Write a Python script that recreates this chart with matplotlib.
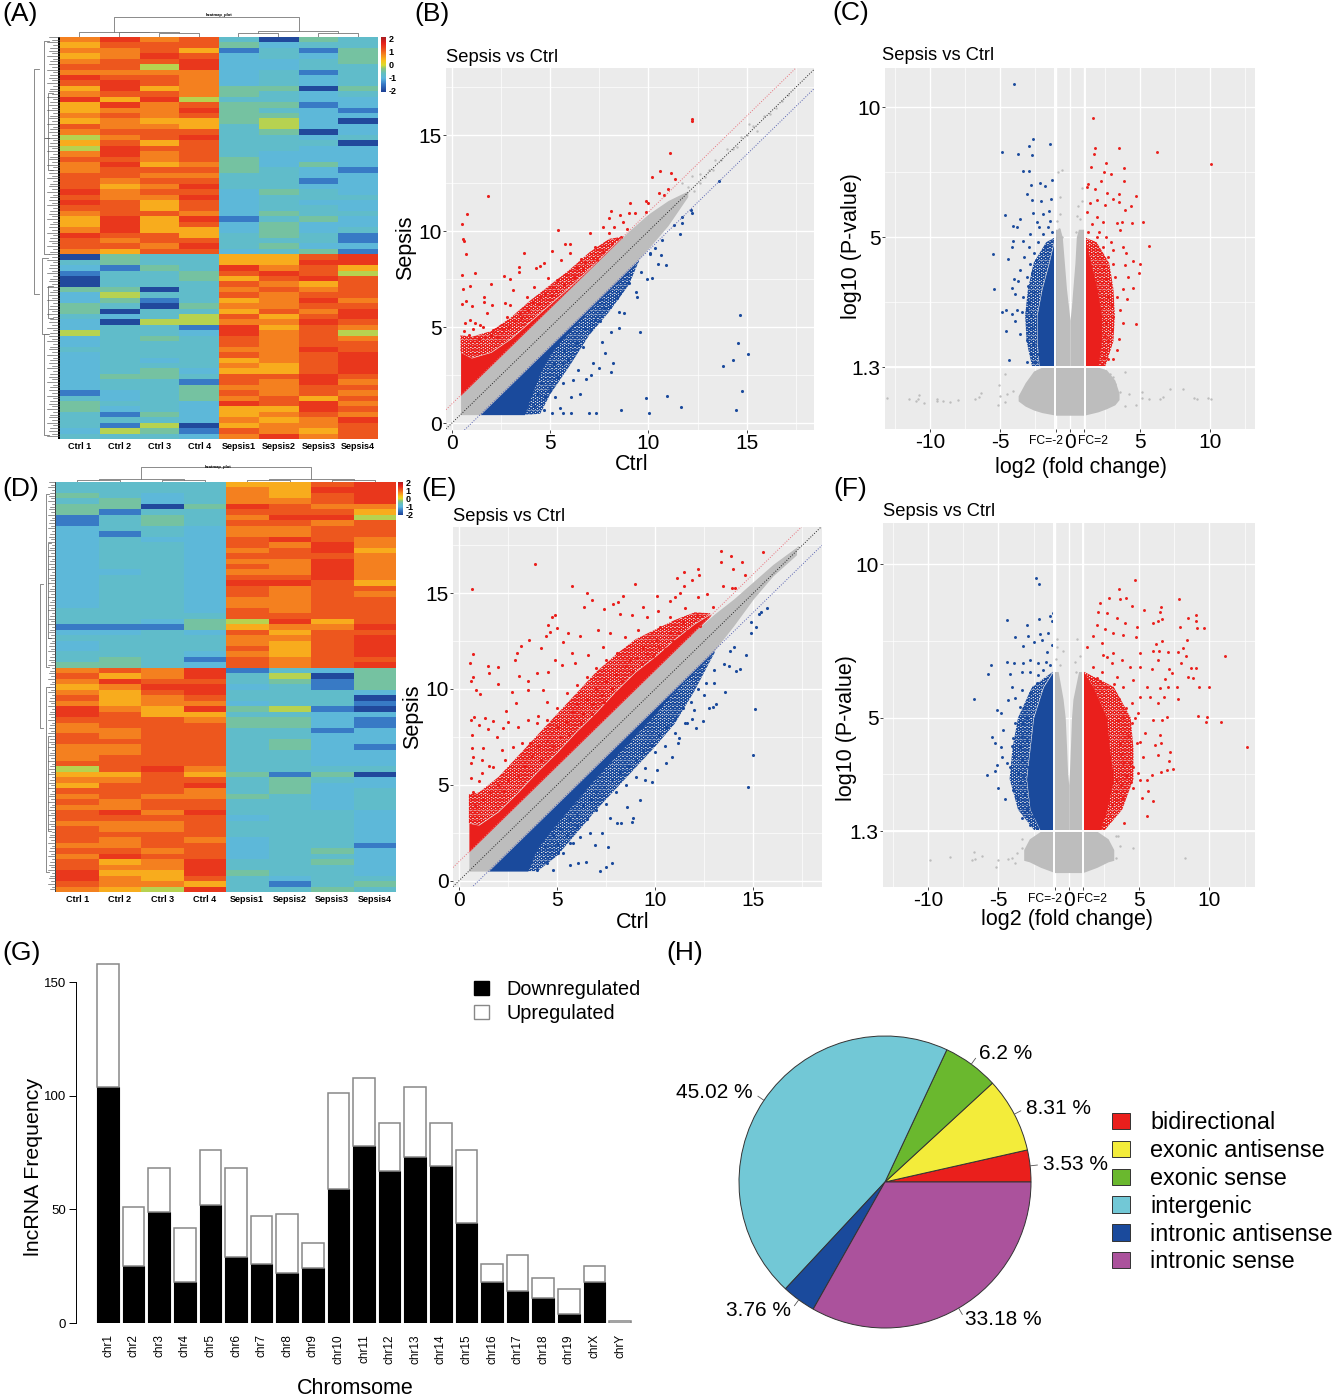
import matplotlib
matplotlib.use('Agg')
import matplotlib.pyplot as plt
import numpy as np
from matplotlib.colors import LinearSegmentedColormap
from matplotlib.patches import Patch

plt.rcParams['font.family'] = ['Liberation Sans', 'DejaVu Sans']
plt.rcParams['hatch.linewidth'] = 0.8

W, H = 1333, 1399

# heatmap rows, one digit per sample (Ctrl 1-4, Sepsis1-4), digit = level in heat_levels
heat_levels = [-2.0, -1.5, -1.0, -0.8, -0.5, -0.15, 0.45, 0.8, 1.1, 1.4]
samples_a = ['Ctrl 1', 'Ctrl 2', 'Ctrl 3', 'Ctrl 4', 'Sepsis1', 'Sepsis2', 'Sepsis3', 'Sepsis4']
rows_a = [
    '79783043', '68884233', '77861314', '67982324', '78892234', '88592233', '77772313', '98872323',
    '89872323', '69674404', '78874323', '96953322', '69784412', '67794321', '78784422', '67664520',
    '87763522', '78883402', '57893323', '68683330', '59883322', '79783222', '88784222', '79674242',
    '78884321', '88773322', '87883312', '86793322', '97882432', '87792333', '98682322', '88682332',
    '78872433', '69691342', '69682422', '79662423', '98863431', '87883331', '88793422', '76882341',
    '04336689', '34336699', '21439786', '13348985', '03346898', '03338768', '44037878', '25338788',
    '24136797', '43047788', '40336879', '32358689', '20557798', '23319687', '53329785', '23438787',
    '23338788', '33337798', '23338789', '23236789', '23337689', '23426689', '24438898', '23318797',
    '23347788', '12348787', '32347868', '43329897', '42326698', '31426787', '33327679', '31506778',
    '25418768', '33327978',
]
samples_d = samples_a
rows_d = [
    '33336689', '33337699', '43237689', '34237789', '44049877', '41338886', '13437995', '13438878',
    '23327788', '21327788', '23228987', '23328797', '23327896', '23328887', '23327797', '23328797',
    '22327797', '23328897', '23329986', '23328788', '23328787', '23327788', '23327788', '33328788',
    '33338888', '33245968', '11146779', '22328688', '33337789', '23337689', '23338689', '33327689',
    '34318788', '44328789',
    '78791324', '86793504', '79883414', '67992314', '76893332', '86783330', '76772331', '97694510',
    '98663322', '88874421', '78884421', '77883312', '87883322', '88883422', '77883421', '77883322',
    '78883322', '88883322', '58973333', '66864140', '77883432', '68893422', '88873423', '78774323',
    '87883323', '77883323', '89793332', '88882332', '77783332', '87783332', '88883332', '87872332',
    '77882331', '88782342', '79882332', '86793342', '87793332', '96694332', '97683233', '87763134',
    '76593343',
]

# scatter B: dense clouds as envelopes, then the separate points
b_band_x = [0.45, 1.45, 5, 9, 10, 11, 12]
b_band_hi = [1.45, 2.45, 6, 10, 10.9, 11.6, 12.1]
b_band_lo = [0.45, 0.45, 4, 8, 9.1, 10.3, 11.8]
b_up_x = [0.45, 1, 2, 3, 4, 5, 6, 7, 8, 8.6]
b_up_hi = [3.7, 3.4, 3.7, 4.4, 5.3, 6.2, 7.1, 8.05, 9.05, 9.65]
b_up_lo = [1.45, 2, 3, 4, 5, 6, 7, 8, 9, 9.6]
b_up_fuzz = [4.6, 4.5, 4.8, 5.5, 6.4, 7.2, 8, 8.9, 9.6, 9.7]
b_down_x = [1.45, 3.7, 4, 4.5, 5, 6, 7, 8, 9, 9.5]
b_down_hi = [0.45, 2.7, 3, 3.5, 4, 5, 6, 7, 8, 8.5]
b_down_lo = [0.45, 0.45, 1.3, 2.6, 3.6, 4.8, 5.9, 6.9, 7.9, 8.45]
b_down_fuzz = [0.45, 0.45, 0.45, 0.5, 1.5, 3, 4.6, 5.8, 7.2, 8.4]
b_red = [(1.83, 11.86), (.8, 10.89), (.54, 10.4), (.56, 9.58), (.64, 9.51), (.75, 8.82), (.54, 7.71), (1.19, 7.81),
         (.93, 7.17), (.56, 7.0), (2, 7.27), (1.64, 6.56), (.73, 6.39), (.54, 6.2), (1.02, 6.13), (2.03, 6.15),
         (1.64, 6.34), (2.66, 7.69), (2.97, 7.5), (3.44, 8.16), (3.7, 8.87), (3.42, 7.9), (5.39, 10.05), (5.08, 8.96),
         (5.78, 9.34), (6, 9.32), (7.05, 9.9), (8.08, 11.04), (9.07, 11.49), (12.22, 15.83), (12.24, 15.75), (11.08, 14.06),
         (10.61, 13.16), (10.2, 12.81), (11.14, 13.02), (11.37, 12.73), (11, 12.19), (10.53, 11.98), (10.8, 11.91),
         (9.86, 11.58), (9.97, 11.49), (9.88, 11.02), (9.34, 10.97), (9.03, 10.94), (8.56, 10.83), (8.02, 10.71),
         (8.73, 10.5), (8.27, 10.24), (7.68, 10.21), (7.98, 9.93), (8.61, 9.69), (7.27, 9.17), (6.56, 8.54), (6.02, 8.89),
         (5.54, 8.51), (4.71, 8.37), (4.49, 8.19), (4.29, 8.09), (3.14, 6.94), (4.2, 7.12), (4.88, 7.55), (5.37, 7.47),
         (5.17, 7.12), (3.81, 6.6), (2.71, 6.25), (2.97, 6.16), (1.78, 5.73), (.93, 5.38), (1.44, 5.12), (2.12, 4.86),
         (2.8, 5.56), (3.47, 5.73), (4.15, 6.34), (4.49, 6.6), (4.75, 6.77), (5.08, 6.68), (5.85, 7.73), (6.36, 8.07),
         (6.78, 8.33), (7.2, 8.59), (7.71, 8.94), (8.14, 9.38), (.6, 4.8), (.9, 4.6), (1.1, 4.9), (1.4, 4.4), (1.7, 4.5),
         (2, 4.6), (2.3, 4.5), (2.6, 4.9), (2.9, 5.0), (3.2, 5.3), (3.5, 5.5), (.7, 5.2), (1.2, 5.2), (1.6, 5.0),
         (3.9, 5.9), (4.4, 6.2), (5.3, 6.9), (5.7, 7.2), (6.2, 7.6), (6.7, 8.1), (7.4, 8.5), (8.4, 9.6), (8.9, 10.1)]
b_blue = [(14.64, 5.63), (14.58, 4.17), (15.07, 3.59), (14.29, 3.3), (13.78, 2.99), (14.76, 1.7), (14.46, .69), (11.66, .87),
          (10.93, 1.41), (9.88, 1.32), (10.02, .54), (8.63, .68), (7.36, .52), (6.98, .54), (6.05, .56), (5.64, .56),
          (5.1, .56), (6.07, 1.35), (6.53, 1.53), (6.81, 2.29), (7.08, 2.5), (7.49, 2.88), (8.12, 2.67), (8.22, 3.16),
          (7.8, 3.68), (9.58, 4.74), (8.51, 4.95), (8.1, 4.77), (7.63, 4.25), (7.2, 3.16), (6.44, 2.78), (6.19, 2.26),
          (5.68, 2.08), (5.25, 1.39), (4.75, 1.39), (5.51, .78), (4.71, .69), (8.76, 5.73), (8.53, 5.82), (9.41, 6.6),
          (9.37, 6.82), (10.17, 7.55), (9.92, 7.5), (10.9, 8.26), (10.47, 8.3), (10.63, 8.77), (11.59, 9.84), (11.73, 10.42),
          (11.73, 10.76), (12.2, 10.97), (12.19, 11.11), (13.58, 12.59), (11.32, 10.33), (10.71, 9.55), (10.34, 9.11),
          (10.08, 8.85), (8.56, 6.77), (8.05, 6.08), (7.54, 5.3), (7.03, 4.86), (6.69, 3.99), (5.93, 3.3), (5.68, 3.13),
          (5.34, 2.43), (5, 1.74), (4.4, 1.5), (4.2, .9), (4.6, 2.1), (5.2, 3.1), (5.7, 3.8), (6.3, 4.2), (6.8, 4.9),
          (7.3, 5.4), (7.8, 6), (8.4, 6.5), (9, 7.3), (9.6, 7.9), (10.1, 8.8)]
b_gray = [(12, 12.3), (12.3, 12.1), (11.7, 12.5), (12.6, 13), (12.9, 12.8), (13.1, 13.2), (13.4, 13.7), (13.7, 13.7),
          (14, 14.3), (14.3, 14.3), (14.7, 14.9), (15, 15), (15.3, 15.5), (15.5, 15.2), (15.9, 16), (16.2, 16.1),
          (16.5, 16.4), (16.8, 16.8), (17.1, 17.1), (12.2, 12.9), (12.6, 12.5), (13.3, 13.2), (14.5, 14.4), (15.1, 15.6)]

# scatter E
e_band_x = [0.5, 1.5, 5, 12, 13, 14, 15, 16, 17.2]
e_band_hi = [1.5, 2.5, 6, 13, 13.9, 14.7, 15.6, 16.5, 17.4]
e_band_lo = [0.5, 0.5, 4, 11, 12, 13.3, 14.7, 15.9, 17]
e_up_x = [0.5, 1, 2, 3, 4, 5, 6, 7, 8, 9, 10, 11, 12, 12.8]
e_up_hi = [3, 2.9, 3.6, 4.6, 5.7, 6.7, 7.8, 8.8, 9.9, 10.9, 11.7, 12.6, 13.4, 13.9]
e_up_lo = [1.5, 2, 3, 4, 5, 6, 7, 8, 9, 10, 11, 12, 13, 13.8]
e_up_fuzz = [4.5, 4.6, 5.4, 6.5, 7.6, 8.7, 9.8, 10.9, 11.8, 12.6, 13.1, 13.6, 14, 13.95]
e_down_x = [1.5, 3.5, 4, 5, 6, 7, 8, 9, 10, 11, 12, 13]
e_down_hi = [0.5, 2.5, 3, 4, 5, 6, 7, 8, 9, 10, 11, 12]
e_down_lo = [0.5, 0.5, 1.7, 3, 4.2, 5.4, 6.5, 7.6, 8.7, 9.9, 10.9, 11.9]
e_down_fuzz = [0.5, 0.5, 0.5, 1.3, 2.5, 3.7, 4.8, 5.9, 7, 8.2, 9.9, 11.85]
e_red = [(3.89, 16.52), (.68, 15.23), (5.74, 15.39), (6.52, 14.99), (6.76, 14.63), (6.38, 14.28), (4.87, 13.86), (4.72, 13.76),
         (4.52, 13.36), (4.64, 12.99), (4.97, 13.17), (3.58, 12.57), (4.41, 12.78), (3.17, 12.26), (2.97, 11.88), (4.18, 12.16),
         (2.87, 11.53), (.73, 11.83), (.58, 11.37), (1.46, 11.22), (2, 11.17), (1.55, 10.83), (.7, 10.64), (.59, 10.42),
         (1.97, 10.24), (3.07, 10.7), (3.53, 10.42), (2.72, 9.83), (.87, 9.93), (1.09, 9.74), (2.89, 9.25), (2.39, 8.87),
         (.61, 8.38), (.76, 8.56), (1.32, 8.5), (1.75, 8.33), (2.51, 8.3), (1, 8.12), (1.49, 7.9), (.65, 7.6), (2.22, 7.95),
         (1.92, 7.51), (.65, 6.9), (1.24, 6.9), (.73, 6.47), (.59, 6.12), (1.15, 6.3), (.59, 5.34), (1.15, 5.6), (1.75, 5.95),
         (2.34, 6.3), (2.77, 6.99), (3.62, 7.17), (3.96, 8.21), (4.47, 8.38), (3.53, 9.95), (4.3, 9.95), (3.96, 10.82),
         (4.55, 10.9), (4.89, 11.51), (5.25, 11.25), (5.31, 12.47), (5.57, 12.9), (6.16, 12.77), (5.74, 11.86), (5.91, 11.34),
         (6.59, 11.77), (7.1, 13.08), (7.37, 14.16), (7.83, 14.42), (8.12, 14.56), (8.37, 14.85), (8.95, 15.46), (9.39, 14.26),
         (8.79, 13.86), (8.2, 13.91), (10.07, 14.85), (10.15, 14.09), (10.75, 14.59), (11, 14.82), (11.1, 15.81), (11.44, 16.09),
         (12.16, 16.24), (12.24, 15.93), (11.85, 15.69), (11.48, 15.37), (11.26, 15.03), (13.34, 17.18), (13.87, 16.92),
         (13.34, 16.61), (14.41, 16.64), (13.94, 16.24), (14.57, 15.93), (15.47, 17.17), (13.46, 15.37), (13.89, 15.25),
         (14.09, 15.25), (12.65, 14.96), (12.19, 14.78), (11.51, 14.21), (10.75, 13.77), (10.24, 13.25), (9.56, 13.77),
         (9.13, 13.08), (8.45, 12.73), (7.69, 12.9), (7.35, 12.21), (8.03, 11.86), (8.71, 11.51), (9.39, 12.21), (10.07, 12.56),
         (10.75, 12.9), (11.43, 13.43), (12.11, 13.86), (12.95, 14.3), (2, 5), (2.5, 5.2), (3, 5.5), (3.3, 6), (3.7, 6.5),
         (4, 7), (4.5, 7.3), (5, 8), (5.2, 7.5), (5.5, 8.3), (5.8, 8.8), (6, 9.2), (6.3, 8.7), (6.5, 9.5), (6.8, 9.2), (7, 10),
         (7.3, 9.7), (7.5, 10.4), (7.8, 10), (8, 10.8), (8.3, 10.4), (8.5, 11.2), (8.8, 10.9), (9, 11.6), (9.3, 11.3), (9.6, 11.9),
         (9.9, 11.7), (10.2, 12.2), (10.5, 12.1), (10.9, 12.5), (11.2, 12.9), (11.6, 13), (5, 9), (5.5, 9.8), (6, 10.2),
         (6.5, 10.6), (7, 11.1), (7.5, 11.5), (4, 8.6), (4.5, 9.3), (3.5, 8.4), (3, 8), (3.2, 7.2), (2.2, 6.8), (1.5, 6), (1, 5.2),
         (.7, 4.6), (.8, 3.9), (1.2, 4.2), (1.6, 4.6), (2.3, 4.7), (4.2, 6.3), (4.8, 7), (5.6, 7.6), (6.2, 8.2), (6.8, 8.7),
         (7.4, 9.3), (8, 9.8), (8.6, 10.3), (9.2, 10.8), (9.8, 11.3), (10.4, 11.8), (11, 12.3), (11.7, 12.8), (12.3, 13.3)]
e_blue = [(15.08, 8.96), (14.99, 6.54), (14.72, 4.87), (14.65, 11.77), (15.69, 14.24), (15.37, 14.03), (15.3, 13.91), (15.16, 13.25),
          (14.89, 13.51), (14.87, 12.9), (14.31, 11.03), (14.11, 10.96), (13.75, 11.2), (13.55, 9.86), (13.09, 9.2), (12.92, 9.08),
          (12.75, 8.99), (12.44, 8.33), (12.1, 7.95), (11.88, 8.42), (11.6, 8.21), (11.22, 7.43), (11.17, 7.17), (10.83, 6.47),
          (10.53, 6.12), (10.07, 5.77), (9.81, 5.17), (9.47, 5.25), (9.22, 4.21), (8.85, 3.25), (8.79, 3.04), (8.23, 2.99),
          (7.81, .9), (7.49, .73), (7.18, .52), (7.57, 1.77), (6.93, 1.86), (6.47, .99), (6.08, .9), (5.65, .82), (4.8, .56),
          (5.31, 1.43), (5.82, 1.95), (7.69, 3.25), (8.54, 3.86), (8.03, 2.99), (7.27, 2.47), (6.67, 2.47), (6.16, 2.3), (5.65, 1.95),
          (5.06, 1.43), (4.47, .9), (3.96, .56), (4, 1.6), (4.4, 1.8), (4.8, 2.4), (5.2, 2.7), (5.6, 3.2), (6, 3.4), (6.3, 3.9),
          (6.7, 4.2), (7, 4.6), (7.4, 4.9), (7.8, 5.3), (8.2, 5.6), (8.6, 6), (9, 6.3), (9.4, 6.8), (9.8, 7.1), (10.2, 7.6),
          (10.6, 8), (11, 8.5), (11.4, 9), (11.8, 9.3), (12.2, 10), (12.6, 10.3), (13, 11), (5, 1.9), (5.5, 2.4), (6, 2.8),
          (6.5, 3.2), (7, 3.7), (7.5, 4), (8, 4.6), (8.5, 5), (9, 5.4), (9.5, 5.9), (10, 6.7), (10.5, 7), (11, 7.7), (11.5, 8.2),
          (12, 8.9), (12.5, 9.7), (13, 10.3), (13.5, 11.3), (13.8, 12), (14, 12.2)]
e_gray = [(13, 13.5), (13.4, 13.9), (13.7, 14.2), (14, 14.5), (14.3, 14.4), (14.6, 14.9), (14.9, 15.3), (15.2, 15.4), (15.5, 15.7),
          (15.8, 15.9), (16, 16.2), (16.3, 16.3), (16.5, 16.6), (16.8, 16.9), (17.1, 17.1), (17.3, 17.4)]

# volcano C, y is the plotted position: the tick labelled 1.3 sits at 0 on this panel
c_ticks_y = [0, 5, 10]
c_red = [(1.62, 9.56), (1.79, 8.44), (3.5, 8.42), (6.24, 8.27), (1.69, 8.19), (10.07, 7.81), (2.6, 7.85), (1.48, 7.69), (3.86, 7.67),
         (2.43, 7.49), (2.93, 7.44), (3.83, 7.15), (2.19, 7.15), (1.31, 7.03), (1.79, 6.86), (1.19, 6.92), (2.62, 6.71), (3.52, 6.64),
         (4.71, 6.58), (3.1, 6.47), (1.9, 6.41), (3.52, 6.35), (4.38, 6.18), (2.52, 6.22), (3.93, 6.03), (1.24, 5.96), (5.24, 5.59),
         (4.45, 5.55), (3.74, 5.58), (3.33, 5.55), (1.9, 5.77), (2.38, 5.58), (5.67, 4.64), (3.57, 5.29), (2.9, 4.81), (3.76, 4.62),
         (3.98, 4.4), (4.48, 4.09), (5.02, 3.95), (4.93, 3.62), (3.93, 3.91), (4.12, 3.46), (3.1, 3.97), (4.52, 3.05), (4.05, 2.63),
         (3.76, 3.01), (3.57, 2.18), (4.69, 1.65), (3.81, 1.71), (3.52, 1.09), (3.33, .67), (3.1, .32), (2.74, .32), (2.26, .13),
         (3.1, 4.49), (2.74, 4.23), (2.38, 4.62), (1.9, 5), (3.21, 3.46), (2.86, 3.21), (3.33, 2.69), (3.1, 1.92), (2.98, 1.41),
         (2.74, 1.03), (2.5, .64), (1.4, 6.3), (1.6, 5.5), (2.1, 5.2), (2.6, 5), (1.3, 5.2), (2.4, 3.9), (2.6, 3.4), (2.7, 2.7),
         (2.9, 2.4), (2.6, 1.7), (2.5, 1.2), (2.4, .4)]
c_blue = [(-3.98, 10.87), (-2.67, 8.77), (-2.93, 8.49), (-1.43, 8.56), (-4.83, 8.27), (-3.74, 8.19), (-2.74, 8.17), (-3.38, 7.54),
          (-2.93, 7.53), (-1.26, 7.18), (-2.14, 7.08), (-2.81, 6.99), (-1.76, 6.95), (-3.1, 6.64), (-1.33, 6.47), (-2.71, 6.41),
          (-2.1, 6.38), (-4.62, 5.85), (-2.62, 5.92), (-3.57, 5.68), (-4.1, 5.41), (-3.81, 5.38), (-2.38, 5.58), (-2.86, 5.13),
          (-4.05, 4.85), (-3.38, 4.85), (-4.17, 4.62), (-5.48, 4.36), (-4.4, 4.14), (-3.29, 4.23), (-2.86, 3.97), (-3.57, 3.74),
          (-3.98, 3.4), (-3.1, 3.46), (-3.69, 3.31), (-5.45, 2.99), (-4.12, 3.05), (-3.93, 2.82), (-3.33, 2.69), (-4.86, 2.12),
          (-4.6, 2.2), (-3.81, 2.2), (-4.12, 2.05), (-3.45, 2.12), (-3.93, 1.79), (-4.55, 1.37), (-3.57, 1.26), (-3.1, 1.03),
          (-4.36, .26), (-3.1, .19), (-1.5, 6.0), (-1.9, 5.9), (-2.2, 5.4), (-1.6, 5.4), (-1.9, 5.1), (-2.3, 4.8), (-2.6, 4.4),
          (-2.9, 4.6), (-1.8, 4.6), (-2.4, 4.1), (-2.7, 3.6), (-3.0, 3.1), (-2.6, 2.9), (-2.9, 2.5), (-3.1, 2.2), (-2.8, 2),
          (-2.7, 1.5), (-3.0, 1.6), (-2.6, .9), (-2.8, .5), (-2.6, .2), (-2.3, .5), (-1.4, 5.6), (-1.3, 5.2)]
c_gray = [(-.55, 7.59), (-.83, 7.5), (.88, 6.9), (-.71, 6.54), (-.9, 5.6), (-.7, 5.9), (.5, 5.8), (.7, 5.7), (.8, 5.2), (-.8, 5.3),
          (.4, 5.2), (-.6, 5), (.85, 6.4), (.6, 6.2), (-13.05, -1.18), (-11.5, -1.24), (-11, -1.32), (-10.76, -1.09), (-10.83, -1.24),
          (-10.4, -1.38), (-9.48, -1.24), (-9.48, -1.32), (-9.05, -1.31), (-8.57, -1.35), (-7.98, -1.26), (-6.81, -1.24),
          (-6.48, -1.15), (-6.38, -1), (-5.07, -.68), (-4.64, -.28), (-5, -1.12), (-5.12, -1.45), (-4.64, -1.35), (-4.52, -1.03),
          (-4.05, -.9), (3.57, -.96), (3.93, -1.51), (4.21, -1.03), (4.71, -1.44), (5.17, -.96), (5.12, -1.19), (5.64, -1.22),
          (6.43, -1.22), (6.62, -1.15), (7.14, -.86), (8.05, -.83), (8.86, -1.19), (9.05, -1.23), (9.88, -1.19), (10.05, -1.24),
          (3.93, -.19), (3.1, -.38), (3.21, -.64), (2.86, -.26)]
c_blob_x = [-3.7, -3.2, -2.6, -2, -1, 0, 1, 2, 2.6, 3.2, 3.5]
c_blob_hi = [-1.1, -.6, -.15, 0, 0, 0, 0, 0, -.1, -.5, -1]
c_blob_lo = [-1.3, -1.5, -1.65, -1.75, -1.85, -1.85, -1.85, -1.72, -1.6, -1.45, -1.25]
c_lobe_y = [0, 1.8, 2.3, 3, 4, 5, 5.3]
c_lobe_left = [0, 0, -.1, -.25, -.4, -.55, -.7]
c_lobe_right = [0, 0, .1, .2, .35, .45, .6]
c_blue_y = [0, 1, 2, 3, 4, 4.8, 5.0]
c_blue_x = [-2.2, -2.35, -2.35, -2, -1.5, -1.15, -1.03]
c_blue_fuzz = [-2.7, -3.1, -3.2, -3, -2.6, -1.7, -1.03]
c_red_y = [0, 1, 2, 3, 4, 4.8, 5.0]
c_red_x = [2.0, 2.25, 2.25, 1.95, 1.5, 1.15, 1.03]
c_red_fuzz = [2.5, 3.1, 3.2, 3.1, 2.8, 1.9, 1.03]

# volcano F
f_ticks_y = [1.3, 5, 10]
f_red = [(4.74, 9.48), (3.6, 9.19), (2.87, 8.91), (3.67, 8.85), (4.08, 8.91), (2.25, 8.74), (4.48, 8.62), (5.36, 8.52), (6.56, 8.61),
         (7.87, 8.88), (2.06, 8.45), (2.7, 8.41), (6.49, 8.45), (8.51, 8.26), (9.03, 8.33), (9.05, 8.14), (6.02, 8.09), (6.38, 8.14),
         (6.66, 8.2), (7.91, 7.95), (9.1, 7.92), (9.62, 7.92), (3.41, 8.23), (4.0, 8.07), (4.83, 7.96), (1.99, 8.01), (2.58, 7.88),
         (1.71, 7.67), (3.18, 7.74), (3.89, 7.69), (4.79, 7.63), (8.39, 7.53), (6.66, 7.5), (6.18, 7.4), (1.28, 7.31), (2.35, 7.42),
         (8.15, 7.28), (11.11, 7.02), (7.8, 7.15), (7.09, 7.15), (6.45, 7.18), (6.02, 7.18), (5.07, 7.09), (8.34, 7.02), (7.99, 6.77),
         (8.7, 6.62), (9.03, 6.6), (7.16, 6.57), (7.32, 6.46), (6.37, 6.87), (5.9, 6.57), (8.51, 6.33), (8.86, 6.3), (9.29, 6.01),
         (9.98, 5.99), (7.68, 6.01), (7.09, 6.01), (6.85, 6.25), (7.8, 5.61), (6.49, 5.95), (6.37, 5.46), (6.8, 5.68), (5.54, 6.01),
         (5.78, 5.68), (9.22, 5.05), (9.86, 5.02), (9.76, 4.85), (10.83, 4.87), (12.65, 4.03), (7.01, 5.01), (6.61, 4.92), (5.97, 4.92),
         (6.49, 4.43), (6.54, 4.16), (6.14, 4.11), (7.2, 3.89), (6.37, 3.78), (7.13, 3.57), (7.44, 3.33), (7.01, 3.3), (6.56, 3.24),
         (5.9, 3.13), (5.54, 2.97), (5.66, 2.62), (5.19, 2.37), (5.97, 2.27), (5.54, 1.8), (3.96, 1.56), (5.07, 2.97), (4.6, 2.7),
         (3.89, 2.37), (3.41, 2.32), (2.94, 1.78), (2.46, 1.51), (4.36, 3.51), (5.31, 3.73), (4.83, 4.16), (5.43, 4.49), (4.48, 4.81),
         (4.95, 5.14), (4.48, 5.46), (5.07, 5.68), (3.89, 6.01), (4.6, 6.22), (5.07, 6.66), (3.77, 6.87), (4.36, 6.66), (3.18, 7.09),
         (2.46, 7.04), (1.75, 6.66), (3.41, 6.33), (2.7, 6.01), (3.89, 5.03), (3.65, 4.16), (3.89, 3.51), (3.41, 2.97), (2.7, 6.98),
         (3.06, 6.77), (3.6, 5.6), (4.1, 5.3), (3.5, 4.9), (4.2, 4.4), (3.7, 3.8), (4.1, 3.1), (3.7, 2.8), (3.3, 2.6), (3.1, 2.2),
         (2.6, 1.9), (2.4, 6.5), (2, 6.3), (3.2, 6.1), (2.2, 6.2), (4.7, 5), (5.1, 4.2), (4.6, 3.4), (4.9, 3.2), (4.4, 2.9)]
f_blue = [(-2.3, 9.56), (-2.11, 9.34), (-4.38, 8.17), (-2.99, 8.02), (-2.09, 8.2), (-1.14, 8.41), (-1.35, 8.31), (-1.21, 8.15), (-3.79, 7.63),
          (-2.89, 7.66), (-2.04, 7.71), (-1.45, 7.74), (-3.22, 7.33), (-2.46, 7.47), (-1.92, 7.53), (-1.21, 7.36), (-4.41, 6.8), (-3.86, 6.77),
          (-5.55, 6.71), (-5.71, 6.42), (-4.17, 6.42), (-3.22, 6.77), (-2.75, 6.87), (-2.16, 6.79), (-1.56, 7.15), (-6.73, 5.61), (-4.05, 6.01),
          (-3.34, 6.5), (-2.75, 6.5), (-5.12, 5.25), (-4.81, 5.14), (-4.29, 5.57), (-3.82, 5.63), (-3.34, 5.9), (-4.64, 4.6), (-5.45, 4.36),
          (-5.24, 4.18), (-4.83, 4.05), (-4.05, 4.08), (-4.76, 3.71), (-5.12, 3.46), (-5.78, 3.13), (-5.24, 3.27), (-4.41, 3.51), (-3.82, 4.81),
          (-3.46, 5.36), (-3.93, 4.33), (-3.46, 4.05), (-4.17, 3.4), (-5, 2.7), (-4.53, 2.34), (-3.93, 2.64), (-3.7, 2.37), (-3.34, 1.72),
          (-2.99, 1.99), (-2.75, 1.51), (-2.27, 1.4), (-3.22, 4.81), (-2.99, 4.27), (-3.34, 3.62), (-3.22, 3.08), (-3.46, 2.86), (-3.1, 5.36),
          (-2.75, 5.79), (-2.27, 6.12), (-1.8, 6.55), (-2.51, 2.64), (-3.6, 3.2), (-3.9, 3.7), (-3.3, 4.4), (-3, 5), (-2.9, 3.4), (-3.1, 2.5),
          (-2.9, 2.1), (-2.5, 1.8), (-2.2, 6.4), (-1.6, 6.8), (-1.3, 6.7)]
f_gray = [(-9.86, .35), (-8.46, .46), (-6.9, .35), (-6.75, .61), (-6.66, .4), (-6.14, .5), (-5.19, .12), (-5.05, .37), (-4.29, .4), (-4.05, .42),
          (-3.82, .26), (-3.34, .75), (-3.7, .58), (-3.34, 1.04), (8.29, .41), (4.55, .76), (3.65, .82), (3.36, 1.13), (3.53, 1.13), (3.36, .42),
          (-.85, 7.55), (.62, 7.55), (-.38, 7.17), (-.85, 7.3), (.81, 7.02), (.45, 6.82), (.55, 6.5), (.7, 6.25), (-.6, 6.7), (-.9, 6.9)]
f_blob_x = [-3.2, -2.8, -2, -1, 0, 1, 2, 2.8, 3.2]
f_blob_hi = [.7, 1.05, 1.3, 1.3, 1.3, 1.3, 1.3, 1.05, .7]
f_blob_lo = [.35, .3, .12, -.05, -.05, -.05, .12, .3, .35]
f_lobe_y = [1.3, 2.8, 3.2, 4, 5, 5.6, 6.5]
f_lobe_left = [0, 0, -.08, -.15, -.25, -.4, -.75]
f_lobe_right = [0, 0, .05, .12, .2, .3, .7]
f_blue_y = [1.3, 2, 3, 4, 5, 6, 6.5]
f_blue_x = [-2, -2.75, -3, -2.75, -2.5, -1.8, -1.1]
f_blue_fuzz = [-2.4, -3.6, -4.2, -4, -3.6, -2.6, -1.1]
f_red_y = [1.3, 2, 3, 4, 5, 6, 6.5]
f_red_x = [2.2, 2.7, 3.2, 2.9, 2.7, 1.75, 1.05]
f_red_fuzz = [2.5, 3.8, 4.6, 4.6, 4.4, 3.2, 1.05]

# stacked bars G
chroms = ['chr1', 'chr2', 'chr3', 'chr4', 'chr5', 'chr6', 'chr7', 'chr8', 'chr9', 'chr10', 'chr11', 'chr12', 'chr13',
          'chr14', 'chr15', 'chr16', 'chr17', 'chr18', 'chr19', 'chrX', 'chrY']
down_counts = [104, 25, 49, 18, 52, 29, 26, 22, 24, 59, 78, 67, 73, 69, 44, 18, 14, 11, 4, 18, 0]
up_counts = [54, 26, 19, 24, 24, 39, 21, 26, 11, 42, 30, 21, 31, 19, 32, 8, 16, 9, 11, 7, 1]

# pie H
pie_names = ['bidirectional', 'exonic antisense', 'exonic sense', 'intergenic', 'intronic antisense', 'intronic sense']
pie_values = [3.53, 8.31, 6.2, 45.02, 3.76, 33.18]
pie_labels = ['3.53 %', '8.31 %', '6.2 %', '45.02 %', '3.76 %', '33.18 %']
pie_colors = ['#ea1f1c', '#f3ec3a', '#6ab82e', '#72c8d6', '#1a4a9c', '#ab529c']

# dendrogram merges on top of heatmaps: left x, right x, height, left leg end, right leg end
top_tree_a = [(1.36, 6, .89, .23, .28), (.49, 2.24, .23, 0, .22), (1.49, 3, .22, 0, .2), (2.5, 3.5, .2, 0, 0),
              (4.49, 5.49, .2, 0, 0), (4.99, 7, .28, .2, .2), (6.49, 7.5, .2, 0, 0)]
top_tree_d = [(2, 6, .88, .2, .2), (1, 3, .2, .12, .12), (5, 7, .2, .12, .12), (.5, 1.5, .12, 0, 0),
              (2.5, 3.5, .12, 0, 0), (4.5, 5.5, .12, 0, 0), (6.5, 7.5, .12, 0, 0)]
# side dendrograms: height, top, bottom (fraction of heatmap height)
side_tree_a = [(1, .08, .64), (.62, .01, .25), (.62, .25, .54), (.68, .55, .74), (.62, .74, .99), (.48, .14, .33), (.45, .62, .7)]
side_tree_d = [(1, .25, .6), (.65, .03, .45), (.65, .5, .95), (.5, .15, .38), (.5, .62, .85)]

RED = '#ea1f1c'
BLUE = '#1a4a9c'
GRAY = '#bdbdbd'
SPECKLE = 'OOOO'
heat_cmap = LinearSegmentedColormap.from_list('heat', [
    (0.0, '#1c3f94'), (0.15, '#3a7ec8'), (0.25, '#5cb7dd'), (0.34, '#62bfc0'), (0.43, '#8cc67c'),
    (0.49, '#dbdc2c'), (0.57, '#f9c01c'), (0.68, '#f5861f'), (0.78, '#ec4f1e'), (0.89, '#e61f1a'), (1.0, '#a81e22')])

fig = plt.figure(figsize=(W / 100, H / 100), dpi=100)


def add_ax(left, top, right, bottom):
    return fig.add_axes([left / W, 1 - bottom / H, (right - left) / W, (bottom - top) / H])


def put_text(x, y, s, **kw):
    kw.setdefault('va', 'center')
    fig.text(x / W, 1 - y / H, s, **kw)


def heatmap(box, rows, samples, top_tree, side_tree, cbar_box, strip_dashed):
    left, top, right, bottom = box
    ax = add_ax(left, top, right, bottom)
    z = np.array([[heat_levels[int(c)] for c in row] for row in rows])
    mesh = ax.pcolormesh(z, cmap=heat_cmap, vmin=-2.1, vmax=2.1)
    ax.invert_yaxis()
    ax.set_xticks(np.arange(8) + 0.5)
    ax.set_xticklabels(samples, fontsize=6.5, fontweight='bold')
    ax.set_yticks([])
    ax.tick_params(length=0, pad=2)
    for s in ax.spines.values():
        s.set_visible(False)

    tree_h = 22 if top_tree is top_tree_a else 17
    tx = add_ax(left, top - tree_h, right, top)
    tx.set_xlim(0, 8)
    tx.set_ylim(0, 1)
    tx.axis('off')
    for xl, xr, h, hl, hr in top_tree:
        tx.plot([xl, xl, xr, xr], [hl, h, h, hr], color='#777777', lw=0.6)

    side_w = 26 if top_tree is top_tree_a else 16
    sx = add_ax(left - side_w, top, left, bottom)
    sx.set_xlim(1, 0)
    sx.set_ylim(1, 0)
    sx.axis('off')
    for h, y0, y1 in side_tree:
        sx.plot([h - .2, h, h, h - .2], [y0, y0, y1, y1], color='#777777', lw=0.6)
    leaf_y = np.linspace(0, 1, len(rows) * 2 + 1)
    leaf_len = [.42, .3, .5, .26, .38]
    for i, y in enumerate(leaf_y):
        sx.plot([0, leaf_len[i % 5]], [y, y], color='#555555', lw=0.45)
    strip = sx.axvspan(0, .09, color='black', lw=0)
    if strip_dashed:
        strip.set_alpha(0.75)

    cax = add_ax(*cbar_box)
    cb = fig.colorbar(mesh, cax=cax, ticks=[-2, -1, 0, 1, 2])
    cb.outline.set_visible(False)
    cb.ax.tick_params(length=0, pad=2, labelsize=6.5)
    cb.ax.set_yticklabels(['-2', '-1', '0', '1', '2'], fontweight='bold')


def gg_axes(box, xlim, ylim, xticks, xminor, yticks, ylabels, yminor):
    ax = add_ax(*box)
    ax.set_facecolor('#ebebeb')
    ax.set_xlim(*xlim)
    ax.set_ylim(*ylim)
    ax.set_xticks(xticks)
    ax.set_xticks(xminor, minor=True)
    ax.set_yticks(yticks)
    ax.set_yticklabels(ylabels)
    ax.set_yticks(yminor, minor=True)
    ax.set_axisbelow(True)
    ax.grid(which='major', color='white', lw=1.0)
    ax.grid(which='minor', color='white', lw=0.5)
    ax.tick_params(which='major', labelsize=15, length=2, width=0.7, color='#444444', pad=1)
    ax.tick_params(which='minor', length=0)
    for s in ax.spines.values():
        s.set_visible(False)
    return ax


def dots(ax, pts, color, size=3.6):
    arr = np.array(pts)
    ax.scatter(arr[:, 0], arr[:, 1], s=size, color=color, linewidths=0, zorder=3)


def scatter_panel(box, xlim, ylim, band, up, down, red, blue, gray):
    ax = gg_axes(box, xlim, ylim, [0, 5, 10, 15], [2.5, 7.5, 12.5, 17.5], [0, 5, 10, 15], ['0', '5', '10', '15'],
                 [2.5, 7.5, 12.5, 17.5])
    ax.fill_between(up[0], up[1], up[3], facecolor='none', edgecolor=RED, hatch=SPECKLE, lw=0, zorder=2)
    ax.fill_between(down[0], down[3], down[2], facecolor='none', edgecolor=BLUE, hatch=SPECKLE, lw=0, zorder=2)
    ax.fill_between(band[0], band[2], band[1], color=GRAY, lw=0, zorder=2)
    ax.fill_between(up[0], up[2], up[1], color=RED, lw=0, zorder=2)
    ax.fill_between(down[0], down[2], down[1], color=BLUE, lw=0, zorder=2)
    dots(ax, gray, GRAY, 3)
    dots(ax, red, RED, 5)
    dots(ax, blue, BLUE, 5)
    guide = np.array(xlim)
    ax.plot(guide, guide + 1, color='#e8707a', lw=0.7, ls=':', zorder=4)
    ax.plot(guide, guide, color='#222222', lw=0.7, ls=':', zorder=4)
    ax.plot(guide, guide - 1, color='#5560b0', lw=0.7, ls=':', zorder=4)
    return ax


def volcano_panel(box, xlim, ylim, yticks, yminor, base, blob, lobes, blue_edge, red_edge, red, blue, gray):
    ax = gg_axes(box, xlim, ylim, [-10, -5, -1, 0, 1, 5, 10], [-12.5, -7.5, -2.5, 2.5, 7.5, 12.5], yticks,
                 ['1.3', '5', '10'], yminor)
    ax.set_xticklabels(['-10', '-5', '', '0', '', '5', '10'])
    ax.fill_between(blob[0], blob[2], blob[1], color=GRAY, lw=0, zorder=2)
    ax.fill_betweenx(lobes[0], -1.03, lobes[1], color=GRAY, lw=0, zorder=2)
    ax.fill_betweenx(lobes[0], lobes[2], 1.03, color=GRAY, lw=0, zorder=2)
    ax.fill_betweenx(blue_edge[0], blue_edge[2], blue_edge[1], facecolor='none', edgecolor=BLUE, hatch=SPECKLE, lw=0, zorder=2)
    ax.fill_betweenx(red_edge[0], red_edge[1], red_edge[2], facecolor='none', edgecolor=RED, hatch=SPECKLE, lw=0, zorder=2)
    ax.fill_betweenx(blue_edge[0], blue_edge[1], -1.03, color=BLUE, lw=0, zorder=2)
    ax.fill_betweenx(red_edge[0], 1.03, red_edge[1], color=RED, lw=0, zorder=2)
    dots(ax, gray, GRAY, 3)
    dots(ax, red, RED, 4.5)
    dots(ax, blue, BLUE, 4.5)
    ax.axhline(base, color='white', lw=1.4, zorder=4)
    ax.axvline(-1.05, color='white', lw=1.4, zorder=4)
    ax.axvline(1.05, color='white', lw=1.4, zorder=4)
    trans = ax.get_xaxis_transform()
    offset = -12.5 / (box[3] - box[1])
    ax.text(-1.72, offset, 'FC=-2', fontsize=8.7, ha='center', va='center', transform=trans)
    ax.text(1.62, offset, 'FC=2', fontsize=8.7, ha='center', va='center', transform=trans)
    return ax


# panels A and D
heatmap((60, 37, 378, 439), rows_a, samples_a, top_tree_a, side_tree_a, (381, 37, 386, 92), False)
heatmap((56, 482, 396, 892), rows_d, samples_d, top_tree_d, side_tree_d, (398, 482, 403, 515), True)
put_text(219, 15, 'heatmap_plot', fontsize=3, fontweight='bold', ha='center')
put_text(218, 467, 'heatmap_plot', fontsize=3, fontweight='bold', ha='center')

# panels B and E
scatter_panel((446, 68, 814, 430), (-0.29, 18.42), (-0.35, 18.5), (b_band_x, b_band_hi, b_band_lo),
              (b_up_x, b_up_hi, b_up_lo, b_up_fuzz), (b_down_x, b_down_hi, b_down_lo, b_down_fuzz), b_red, b_blue, b_gray)
scatter_panel((453, 527, 822, 887), (-0.31, 18.5), (-0.33, 18.45), (e_band_x, e_band_hi, e_band_lo),
              (e_up_x, e_up_hi, e_up_lo, e_up_fuzz), (e_down_x, e_down_hi, e_down_lo, e_down_fuzz), e_red, e_blue, e_gray)

# panels C and F
volcano_panel((885, 68, 1255, 429), (-13.2, 13.2), (-2.38, 11.5), c_ticks_y, [2.5, 7.5], 0,
              (c_blob_x, c_blob_hi, c_blob_lo), (c_lobe_y, c_lobe_left, c_lobe_right), (c_blue_y, c_blue_x, c_blue_fuzz),
              (c_red_y, c_red_x, c_red_fuzz), c_red, c_blue, c_gray)
volcano_panel((883, 523, 1255, 887), (-13.2, 13.24), (-0.52, 11.34), f_ticks_y, [3.15, 7.5], 1.3,
              (f_blob_x, f_blob_hi, f_blob_lo), (f_lobe_y, f_lobe_left, f_lobe_right), (f_blue_y, f_blue_x, f_blue_fuzz),
              (f_red_y, f_red_x, f_red_fuzz), f_red, f_blue, f_gray)

for x, y, s in [(446, 57, 'Sepsis vs Ctrl'), (882, 56, 'Sepsis vs Ctrl'), (453, 516, 'Sepsis vs Ctrl'), (883, 512, 'Sepsis vs Ctrl')]:
    put_text(x, y, s, fontsize=13.2)
for x, y, s in [(632, 464, 'Ctrl'), (633, 922, 'Ctrl'), (1081, 468, 'log2 (fold change)'), (1067, 920, 'log2 (fold change)')]:
    put_text(x, y, s, fontsize=15.5, ha='center')
for x, y, s in [(406, 248, 'Sepsis'), (413, 717, 'Sepsis'), (851, 246, 'log10 (P-value)'), (847, 728, 'log10 (P-value)')]:
    put_text(x, y, s, fontsize=15.5, ha='center', rotation=90)

# panel G
gx = add_ax(76, 959.3, 640, 1323)
xpos = np.arange(len(chroms))
gx.bar(xpos, down_counts, width=0.84, color='black', edgecolor='black', linewidth=0.8)
up_bars = gx.bar(xpos, up_counts, width=0.84, bottom=down_counts, color='white', edgecolor='#888888', linewidth=1.1)
gx.set_xlim(-1.25, 20.78)
gx.set_ylim(0, 160)
gx.set_xticks(xpos)
gx.set_xticklabels(chroms, rotation=90, fontsize=8.5)
gx.set_yticks([0, 50, 100, 150])
gx.tick_params(axis='x', length=0, pad=8)
gx.tick_params(axis='y', labelsize=9.5, length=5, width=0.7, pad=2)
for side in ['top', 'right', 'bottom']:
    gx.spines[side].set_visible(False)
gx.spines['left'].set_bounds(0, 150)
gx.spines['left'].set_linewidth(0.7)
put_text(34, 1167, 'lncRNA Frequency', fontsize=15.4, rotation=90, ha='center')
put_text(355, 1389, 'Chromsome', fontsize=15.5, ha='center')
fig.legend(handles=[Patch(facecolor='black', edgecolor='black'), Patch(facecolor='white', edgecolor='#888888')],
           labels=['Downregulated', 'Upregulated'], loc='upper left', bbox_to_anchor=(474 / W, 1 - 980 / H),
           frameon=False, fontsize=14.3, labelspacing=0.25, handlelength=0.75, handleheight=0.65,
           handletextpad=0.9, borderpad=0, borderaxespad=0)

# panel H
px = add_ax(885 - 190, 1182 - 190, 885 + 190, 1182 + 190)
wedges, texts = px.pie(pie_values, labels=pie_labels, colors=pie_colors, labeldistance=1.09, startangle=0,
                       counterclock=True, wedgeprops={'edgecolor': '#333333', 'linewidth': 0.7},
                       textprops={'fontsize': 15})
px.set_xlim(-190 / 146, 190 / 146)
px.set_ylim(-190 / 146, 190 / 146)
mid = np.radians((np.cumsum(pie_values) - np.array(pie_values) / 2) * 3.6)
for a in mid:
    px.plot([np.cos(a), 1.05 * np.cos(a)], [np.sin(a), 1.05 * np.sin(a)], color='#555555', lw=0.6)
fig.legend(handles=wedges, labels=pie_names, loc='upper left', bbox_to_anchor=(1112 / W, 1 - 1111 / H),
           frameon=False, fontsize=16.8, labelspacing=0.21, handlelength=0.77, handleheight=0.69,
           handletextpad=0.86, borderpad=0, borderaxespad=0)

for x, y, s in [(2, 14, '(A)'), (414, 14, '(B)'), (832, 13, '(C)'), (2, 489, '(D)'), (421, 489, '(E)'), (833, 489, '(F)'),
                (2, 953, '(G)'), (666, 953, '(H)')]:
    put_text(x, y, s, fontsize=19)

fig.savefig('out.png', dpi=100)
